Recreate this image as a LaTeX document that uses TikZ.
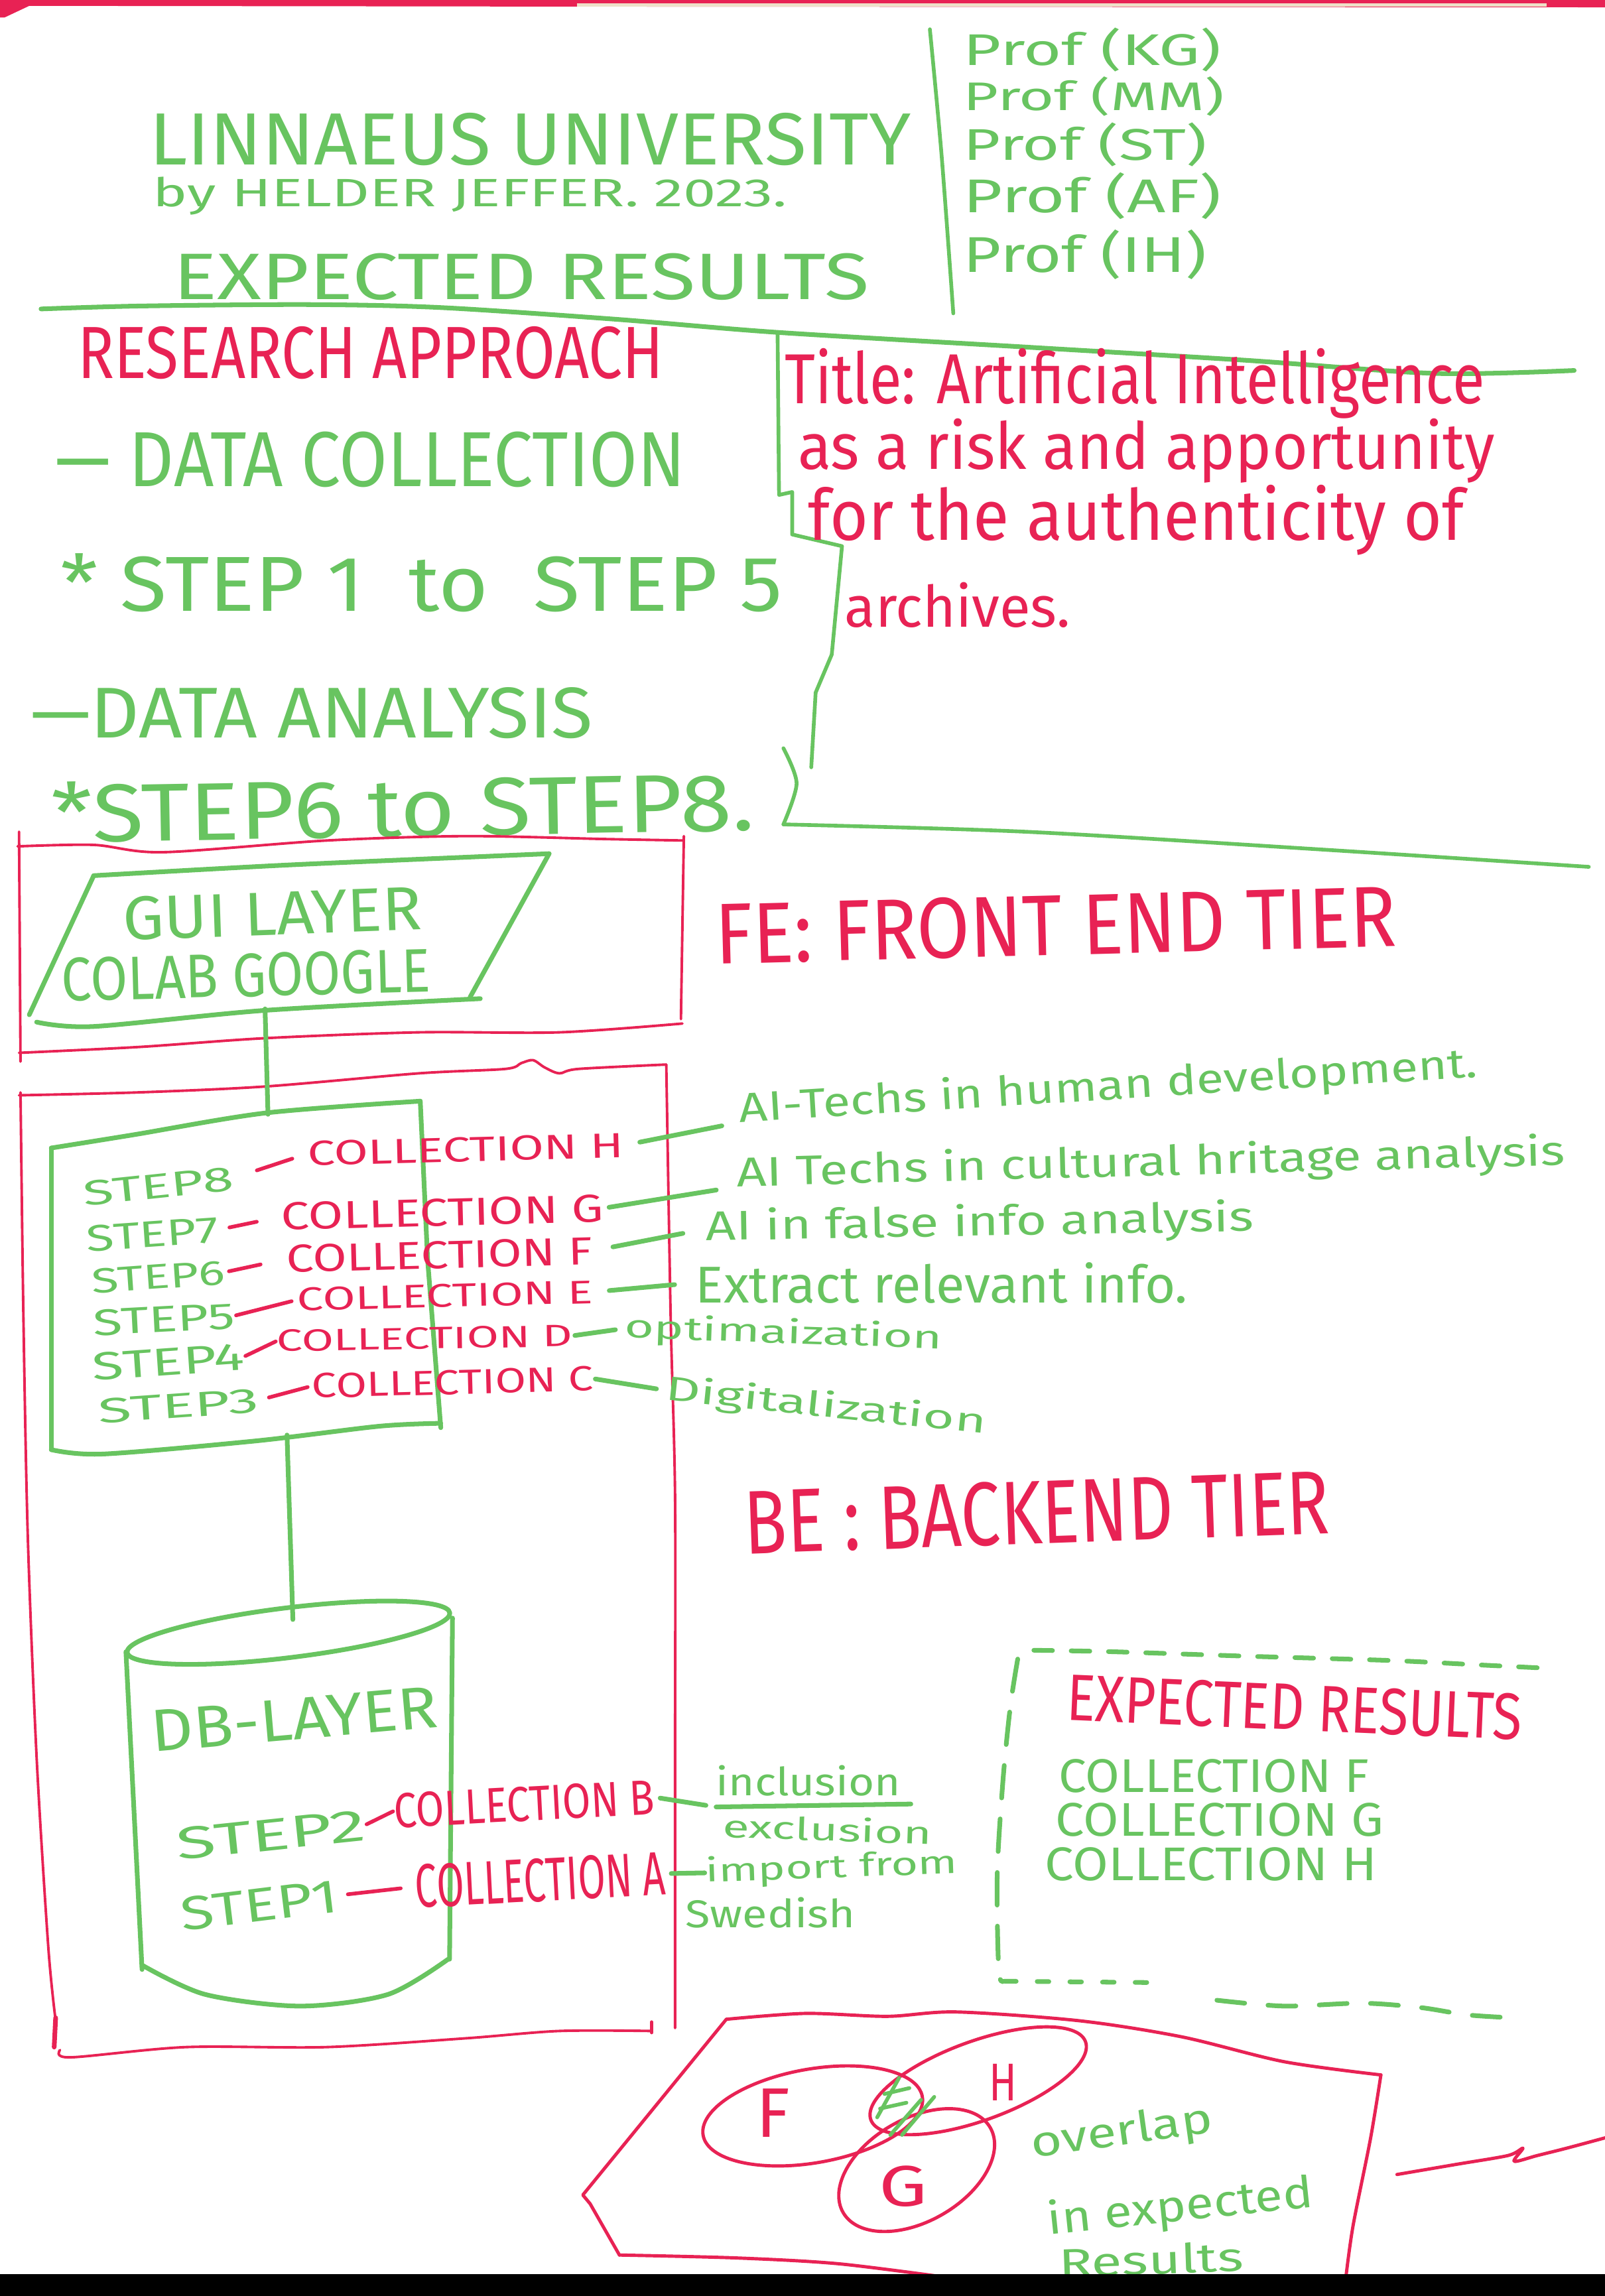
\documentclass[tikz,border=0pt]{standalone}
\usepackage{fontspec}
\setmainfont{Fira Sans}
\usepackage{graphicx}
\usetikzlibrary{calc}
\definecolor{mgreen}{RGB}{104,196,96}
\definecolor{mred}{RGB}{232,34,84}
\definecolor{bandtan}{RGB}{238,224,200}
\newdimen\pu \pu=0.2207mm
\newcommand{\hw}[3]{\resizebox*{#1\pu}{#2\pu}{#3}}
\tikzset{
  gt/.style={text=mgreen, inner sep=0pt, outer sep=0pt},
  rt/.style={text=mred, inner sep=0pt, outer sep=0pt},
  gline/.style={draw=mgreen, line width=2pt, line cap=round, line join=round},
  gthin/.style={draw=mgreen, line width=1.6pt, line cap=round, line join=round},
  rline/.style={draw=mred, line width=1.1pt, line cap=round, line join=round},
  rvenn/.style={draw=mred, line width=1.4pt, line cap=round, line join=round},
  rdash/.style={draw=mred, line width=1.6pt, line cap=round},
  gdash/.style={draw=mgreen, line width=2pt, line cap=round, dash pattern=on 8pt off 8pt},
}
\begin{document}
\begin{tikzpicture}[x=0.2207mm,y=-0.2207mm]
\useasboundingbox (0,0) rectangle (1096,1568);
\fill[white] (0,0) rectangle (1096,1568);
% top band
\fill[mred] (0,0) -- (1096,0) -- (1096,5) -- (394,4.5) -- (20,4) -- (3,12) -- (0,12) -- cycle;
\fill[bandtan] (394,2.2) rectangle (1056,4.5);

% ---------------- header ----------------
\node[gt] (uni) at (362,95) {\hw{520}{36}{LINNAEUS UNIVERSITY}};
\node[gt] (by) at (321,134) {\hw{433}{26}{by HELDER JEFFER. 2023.}};
\node[gt] (exp) at (356,189) {\hw{475}{32}{EXPECTED RESULTS}};
\draw[gthin] plot[smooth] coordinates {(635,20) (643,106) (651,214)};
\node[gt] (p1) at (746,34) {\hw{176}{30}{Prof (KG)}};
\node[gt] (p2) at (747,66) {\hw{178}{27}{Prof (MM)}};
\node[gt] (p3) at (741,99) {\hw{166}{30}{Prof (ST)}};
\node[gt] (p4) at (746,134) {\hw{176}{32}{Prof (AF)}};
\node[gt] (p5) at (741,174) {\hw{166}{34}{Prof (IH)}};
\draw[gline] plot[smooth] coordinates {(28,211) (95,209) (210,208) (300,210) (420,218) (531,227) (700,237) (850,246) (980,255) (1075,253)};

% ---------------- research approach ----------------
\node[rt] (ra) at (253,241) {\hw{400}{36}{RESEARCH APPROACH}};
\node[gt] (dc) at (253,314) {\hw{430}{38}{— DATA COLLECTION}};
\node[gt] (s15) at (288,398) {\hw{493}{40}{* STEP 1~~to~~STEP 5}};
\node[gt] (da) at (213,487) {\hw{384}{35}{—DATA ANALYSIS}};
\node[gt, rotate=1] (s68) at (275,551) {\hw{480}{42}{*STEP6 to STEP8.}};

% bracket
\draw[gthin] (531,227) -- (532,338) -- (541,336) -- (541,365) -- (575,373) -- (568,447) -- (557,473) -- (554,524);
\draw[gthin] plot[smooth] coordinates {(535,511) (544,535) (535,563)};
\draw[gthin] plot[smooth] coordinates {(535,563) (700,568) (900,580) (1085,592)};

% title
\node[rt] (t1) at (775,262) {\hw{478}{48}{Title: Artificial Intelligence}};
\node[rt] (t2) at (783,308) {\hw{476}{44}{as a risk and apportunity}};
\node[rt] (t3) at (776,355) {\hw{448}{48}{for the authenticity of}};
\node[rt] (t4) at (654,413) {\hw{154}{31}{archives.}};

% ---------------- FE box ----------------
\draw[rline] plot[smooth] coordinates {(12,578) (64,577) (111,582) (223,574) (318,571) (413,573) (467,574)};
\draw[rline] (13,568) -- (14,725);
\draw[rline] (467,571) -- (465,696);
\draw[rline] plot[smooth] coordinates {(13,719) (95,715) (181,709) (286,705) (382,705) (466,699)};
\node[rt, rotate=1.5] (fe) at (721,632) {\hw{465}{42}{FE: FRONT END TIER}};

% GUI layer
\draw[gline] plot[smooth] coordinates {(64,598) (191,591) (328,585) (375,583)};
\draw[gline] (375,583) -- (321,681);
\draw[gline] plot[smooth] coordinates {(328,682) (181,690) (64,701) (25,698)};
\draw[gline] (64,598) -- (20,693);
\node[gt, rotate=2] (gui) at (186,624) {\hw{204}{30}{GUI LAYER}};
\node[gt, rotate=1.5] (colab) at (168,666) {\hw{252}{30}{COLAB GOOGLE}};

% ---------------- BE box ----------------
\draw[rline] plot[smooth] coordinates {(13,748) (95,746) (181,742) (286,733) (345,730) (356,726) (364,724) (372,729) (382,733) (395,730) (455,727)};
\draw[rline] plot[smooth] coordinates {(14,746) (16,900) (19,1050) (25,1200) (33,1330) (38,1380)};
\draw[rline, line width=2pt] (38,1378) -- (37,1398);
\draw[rline] plot[smooth] coordinates {(41,1400) (48,1405) (127,1398) (223,1398) (318,1392) (382,1387) (445,1387)};
\draw[rline, line width=1.6pt] (445,1381) -- (445,1388);
\draw[rline] plot[smooth] coordinates {(455,727) (458,900) (461,1022) (461,1200) (461,1385)};
\node[rt, rotate=2] (be) at (708,1033) {\hw{400}{44}{BE : BACKEND TIER}};

% steps box
\draw[gline] plot[smooth] coordinates {(35,784) (91,775) (182,760) (287,752)};
\draw[gline] (287,752) -- (292,860) -- (301,975);
\draw[gline] plot[smooth] coordinates {(301,972) (259,974) (175,984) (70,993) (35,990)};
\draw[gline] (35,784) -- (35,990);

\coordinate (guiB) at (181,689);
\coordinate (stepT) at (183,761);
\coordinate (stepB) at (196,980);
\coordinate (dbT) at (200,1106);
\draw[gline] (guiB) -- (stepT);
\draw[gline] (stepB) -- (dbT);

% step rows
\node[gt, rotate=6] (s8) at (108,810) {\hw{103}{17}{STEP8}};
\node[gt, rotate=4] (s7) at (104,843) {\hw{90}{18}{STEP7}};
\node[gt, rotate=4] (s6) at (108,872) {\hw{91}{17}{STEP6}};
\node[gt, rotate=3] (s5) at (112,901) {\hw{97}{18}{STEP5}};
\node[gt, rotate=4] (s4) at (115,930) {\hw{104}{19}{STEP4}};
\node[gt, rotate=4] (s3) at (122,960) {\hw{110}{17}{STEP3}};

\node[rt, rotate=1.5] (colH) at (318,785) {\hw{216}{17}{COLLECTION H}};
\node[rt, rotate=1.5] (colG) at (302,828) {\hw{220}{19}{COLLECTION G}};
\node[rt, rotate=1.5] (colF) at (300,857) {\hw{209}{19}{COLLECTION F}};
\node[rt, rotate=1.5] (colE) at (304,885) {\hw{202}{16}{COLLECTION E}};
\node[rt, rotate=1] (colD) at (290,914) {\hw{202}{15}{COLLECTION D}};
\node[rt, rotate=1.5] (colC) at (309,944) {\hw{192}{17}{COLLECTION C}};

\draw[rdash, shorten <=10.7pt, shorten >=6.9pt] (s8.east) -- (colH.west);
\draw[rdash, shorten <=5pt, shorten >=10.7pt] (s7.east) -- (colG.west);
\draw[rdash, shorten <=1.9pt, shorten >=11.3pt] (s6.east) -- (colF.west);
\draw[rdash, shorten <=0.5pt, shorten >=2.5pt] (s5.east) -- (colE.west);
\draw[rdash, shorten <=0.5pt, shorten >=0.5pt] (s4.east) -- (colD.west);
\draw[rdash, shorten <=4.4pt, shorten >=1.9pt] (s3.east) -- (colC.west);

\node[gt, rotate=3.5] (aiH) at (757,743) {\hw{505}{28}{AI-Techs in human development.}};
\node[gt, rotate=1.5] (aiG) at (786,795) {\hw{566}{28}{AI Techs in cultural hritage analysis}};
\node[gt, rotate=1] (aiF) at (669,836) {\hw{374}{28}{AI in false info analysis}};
\node[gt] (aiE) at (643,876) {\hw{336}{28}{Extract relevant info.}};
\node[gt, rotate=-2] (aiD) at (535,911) {\hw{217}{22}{optimaization}};
\node[gt, rotate=-6] (aiC) at (564,961) {\hw{220}{23}{Digitalization}};

\draw[gline, shorten <=7pt, shorten >=8pt] (colH.east) -- (aiH.base west);
\draw[gline, shorten <=2.5pt, shorten >=9pt] (colG.east) -- (aiG.base west);
\draw[gline, shorten <=9pt, shorten >=10pt] (colF.east) -- (aiF.west);
\draw[gline, shorten <=7pt, shorten >=9pt] (colE.east) -- (aiE.west);
\draw[gline, shorten <=1pt, shorten >=4pt] (colD.east) -- (aiD.west);
\draw[gline, shorten <=1pt, shorten >=4pt] (colC.east) -- (aiC.west);

% DB layer cylinder
\draw[gline, rotate around={7:(197,1115)}] (197,1115) ellipse [x radius=111, y radius=17];
\draw[gline] (86,1128) -- (97,1345);
\draw[gline] (309,1105) -- (307,1338);
\draw[gline] plot[smooth] coordinates {(97,1342) (140,1362) (205,1370) (265,1362) (306,1338)};
\node[gt, rotate=5] (db) at (201,1174) {\hw{196}{28}{DB-LAYER}};

\node[gt, rotate=6] (s2) at (185,1253) {\hw{130}{22}{STEP2}};
\node[rt, rotate=3] (colB) at (358,1232) {\hw{178}{24}{COLLECTION B}};
\draw[rdash, shorten <=0.5pt, shorten >=0.5pt] (s2.east) -- (colB.west);
\node[gt] (incl) at (552,1216) {\hw{126}{21}{inclusion}};
\node[gt, rotate=-2] (excl) at (565,1249) {\hw{143}{17}{exclusion}};
\coordinate (fracL) at (489,1234);
\coordinate (fracR) at (622,1232);
\draw[gline] (fracL) -- (fracR);
\draw[gline, shorten <=2.5pt, shorten >=4.4pt] (colB.east) -- (fracL);

\node[gt, rotate=7] (s1) at (177,1301) {\hw{108}{23}{STEP1}};
\node[rt, rotate=3] (colA) at (369,1284) {\hw{171}{30}{COLLECTION A}};
\draw[rdash, shorten <=4.4pt, shorten >=6.3pt] (s1.east) -- (colA.west);
\node[gt, rotate=2] (imp) at (568,1276) {\hw{172}{22}{import from}};
\node[gt] (swe) at (526,1306) {\hw{116}{21}{Swedish}};
\draw[gline, shorten <=2.5pt, shorten >=0.5pt] (colA.east) -- (imp.west);

% ---------------- expected results box ----------------
\draw[gdash] plot[smooth] coordinates {(706,1127) (760,1128) (850,1131) (950,1134) (1010,1137) (1051,1139)};
\draw[gdash, dash pattern=on 14pt off 9pt] plot[smooth] coordinates {(695,1133) (690,1165) (685,1215) (681,1280) (682,1345) (685,1353)};
\draw[gdash, dash pattern=on 5pt off 9pt] (686,1353) -- (795,1354);
\draw[gdash, dash pattern=on 12pt off 10pt] plot[smooth] coordinates {(831,1366) (877,1370) (930,1368) (970,1371) (1002,1376) (1033,1378)};
\node[rt, rotate=-2.5] (er) at (884,1166) {\hw{311}{32}{EXPECTED RESULTS}};
\node[gt] (cF) at (829,1213) {\hw{212}{23}{COLLECTION F}};
\node[gt] (cG) at (833,1243) {\hw{224}{23}{COLLECTION G}};
\node[gt] (cH) at (827,1273) {\hw{227}{23}{COLLECTION H}};

% ---------------- venn ----------------
\draw[rvenn] plot[smooth] coordinates {(496,1379) (550,1375) (606,1377) (653,1374) (737,1380) (807,1391) (877,1408) (943,1417)};
\draw[rvenn] plot[smooth] coordinates {(943,1417) (936,1460) (924,1520) (919,1556)};
\draw[rvenn] (496,1379) -- (398,1499) -- (403,1505) -- (423,1540);
\draw[rvenn] plot[smooth] coordinates {(423,1540) (503,1542) (573,1546) (652,1556)};
\draw[rvenn] plot[smooth] coordinates {(954,1485) (995,1478) (1030,1472) (1040,1467) (1034,1476) (1050,1472) (1070,1467) (1096,1460)};

\draw[rvenn, rotate around={10:(555,1445)}] (555,1445) ellipse [x radius=76, y radius=32];
\draw[rvenn, rotate around={20:(668,1421)}] (668,1421) ellipse [x radius=78, y radius=27];
\draw[rvenn, rotate around={30:(626,1482)}] (626,1482) ellipse [x radius=58, y radius=35];
\node[rt] (lF) at (528,1443) {\hw{23}{33}{F}};
\node[rt] (lH) at (685,1422) {\hw{19}{25}{H}};
\node[rt] (lG) at (617,1493) {\hw{33}{28}{G}};
\draw[gthin] (599,1446) -- (614,1419);
\draw[gthin] (604,1430) -- (621,1426);
\draw[gthin] (601,1440) -- (619,1436);
\draw[gthin] (608,1458) -- (629,1434);
\draw[gthin] (616,1458) -- (638,1432);

\node[gt, rotate=8] (ov) at (766,1457) {\hw{125}{28}{overlap}};
\node[gt, rotate=6] (ie) at (806,1508) {\hw{182}{30}{in expected}};
\node[gt, rotate=2] (res) at (786,1543) {\hw{126}{21}{Results}};

% bottom dark band
\fill[black] (0,1553) rectangle (1096,1568);
\end{tikzpicture}
\end{document}
